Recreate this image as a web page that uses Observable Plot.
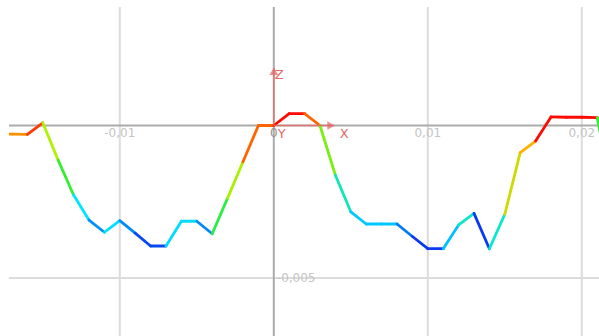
<!DOCTYPE html>
<html>
<head>
<meta charset="utf-8">
<script src="https://cdn.jsdelivr.net/npm/d3@7"></script>
<script src="https://cdn.jsdelivr.net/npm/@observablehq/plot@0.6"></script>
<style>
  html, body { margin: 0; padding: 0; background: #fff; }
  #chart svg { display: block; }
</style>
</head>
<body>
<div id="chart"></div>
<script>
// Profile samples (x, z)
const xValues = [-0.018, -0.017, -0.016, -0.015, -0.014, -0.013, -0.012, -0.011, -0.010, -0.009,
                 -0.008, -0.007, -0.006, -0.005, -0.004, -0.003, -0.002, -0.001, 0, 0.001,
                 0.002, 0.003, 0.004, 0.005, 0.006, 0.007, 0.008, 0.009, 0.010, 0.011,
                 0.012, 0.013, 0.014, 0.015, 0.016, 0.017, 0.018, 0.019, 0.020, 0.021, 0.022];
const zValues = [-0.00028, -0.00028, -0.00029, 0.00009, -0.00114, -0.00228, -0.00310, -0.00350, -0.00312, -0.00353,
                 -0.00395, -0.00395, -0.00314, -0.00314, -0.00355, -0.00238, -0.00119, 0, 0, 0.00039,
                 0.00039, 0, -0.00163, -0.00283, -0.00323, -0.00323, -0.00323, -0.00364, -0.00404, -0.00404,
                 -0.00326, -0.00288, -0.00404, -0.00291, -0.00089, -0.00051, 0.00028, 0.00027, 0.00027, 0.00026, -0.0023];

// Grid and tick labels
const xGrid = [-0.01, 0.01, 0.02];
const yGrid = [-0.005];
const xTickValues = [-0.01, 0.01, 0.02];
const xTickLabels = ["-0,01", "0,01", "0,02"];
const originLabel = ["0"];
const yTickValues = [-0.005];
const yTickLabels = ["-0,005"];

// Axis helper (X and Z arrows) lengths
const helperX = 0.0039;
const helperZ = 0.00187;
const helperLabels = ["X", "Y", "Z"];

// Colour stops (value -> colour)
const colorDomain = [-0.0041, -0.0034, -0.0031, -0.0023, -0.0011, -0.0005, 0, 0.0001, 0.00025];
const colorRange = ["#0a30f0", "#00a0ff", "#00e4ff", "#30ee30", "#b4f000", "#ffb000", "#ff6400", "#ff3400", "#ff0a00"];

const segments = xValues.slice(1).map((x, i) => ({
  x1: xValues[i], y1: zValues[i], x2: x, y2: zValues[i + 1], v: zValues[i + 1]
}));
const xTicks = xTickValues.map((v, i) => ({v, label: xTickLabels[i]}));
const yTicks = yTickValues.map((v, i) => ({v, label: yTickLabels[i]}));

const helperColor = "#e46a6a";

const chart = Plot.plot({
  width: 599,
  height: 336,
  marginLeft: 9,
  marginRight: 0,
  marginTop: 7,
  marginBottom: 0,
  x: {domain: [-0.017162, 0.021149], axis: null},
  y: {domain: [-0.006918, 0.003869], axis: null},
  color: {type: "linear", domain: colorDomain, range: colorRange, interpolate: "rgb", clamp: true},
  style: {background: "#ffffff", fontFamily: "DejaVu Sans, Verdana, sans-serif", fontSize: "12px"},
  marks: [
    Plot.ruleX(xGrid, {stroke: "#dcdcdc", strokeWidth: 2}),
    Plot.ruleY(yGrid, {stroke: "#dcdcdc", strokeWidth: 2}),
    Plot.ruleY([0], {stroke: "#ababab", strokeWidth: 2}),
    Plot.ruleX([0], {stroke: "#ababab", strokeWidth: 2}),
    Plot.text(xTicks, {x: "v", y: 0, text: "label", dy: 8, fill: "#c4c4c4", textAnchor: "middle"}),
    Plot.text(yTicks, {x: 0, y: "v", text: "label", dx: 3, fill: "#c4c4c4", textAnchor: "start"}),
    Plot.link(segments, {x1: "x1", y1: "y1", x2: "x2", y2: "y2", stroke: "v", strokeWidth: 2.8,
      strokeLinecap: "round", clip: true}),
    Plot.link([{a: 0, b: helperX}], {x1: "a", x2: "b", y1: 0, y2: 0, stroke: helperColor, strokeWidth: 1.5, strokeOpacity: 0.85}),
    Plot.link([{a: 0, b: helperZ}], {x1: 0, x2: 0, y1: "a", y2: "b", stroke: helperColor, strokeWidth: 1.5, strokeOpacity: 0.85}),
    Plot.dot([helperX], {x: d => d, y: 0, symbol: "triangle", rotate: 90, r: 3.2, dx: -4, fill: helperColor, fillOpacity: 0.75, stroke: "none"}),
    Plot.dot([helperZ], {x: 0, y: d => d, symbol: "triangle", rotate: 0, r: 3.2, dy: 4, fill: helperColor, fillOpacity: 0.75, stroke: "none"}),
    Plot.text([helperLabels[0]], {x: helperX, y: 0, text: d => d, dx: 6, dy: 8, fill: helperColor, textAnchor: "start", fontSize: 13}),
    Plot.text([helperLabels[1]], {x: 0, y: 0, text: d => d, dx: 4, dy: 8, fill: helperColor, textAnchor: "start", fontSize: 13}),
    Plot.text([helperLabels[2]], {x: 0, y: helperZ, text: d => d, dx: 1, dy: 6, fill: helperColor, textAnchor: "start", fontSize: 13}),
    Plot.text(originLabel, {x: 0, y: 0, text: d => d, dy: 8, fill: "#909090", textAnchor: "middle"})
  ]
});
document.getElementById("chart").appendChild(chart);
</script>
</body>
</html>
